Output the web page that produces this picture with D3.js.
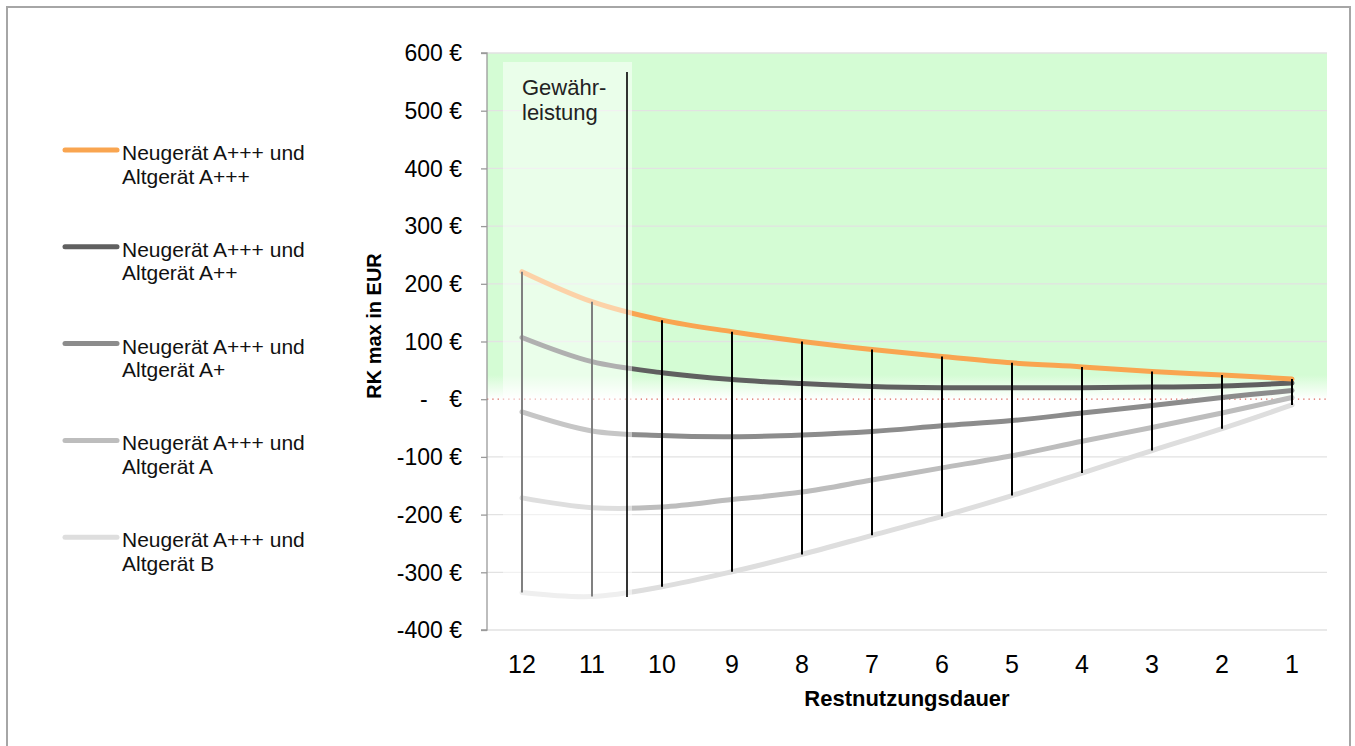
<!DOCTYPE html>
<html><head><meta charset="utf-8">
<script src="https://cdn.jsdelivr.net/npm/d3@7"></script>
<style>html,body{margin:0;padding:0;background:#fff;}svg{display:block;font-family:"Liberation Sans",Arial,sans-serif;}</style>
</head><body><svg id="c" width="1355" height="746"></svg>
<script>
const categories = ["12","11","10","9","8","7","6","5","4","3","2","1"];
const seriesNames = ["Neugerät A+++ und Altgerät A+++","Neugerät A+++ und Altgerät A++","Neugerät A+++ und Altgerät A+","Neugerät A+++ und Altgerät A","Neugerät A+++ und Altgerät B"];
const valsAppp = [221, 169, 137, 117, 100, 86, 74, 63, 56, 48, 42, 35];
const valsApp  = [107, 65, 46, 34, 27, 22, 20, 20, 20, 21, 23, 28];
const valsAp   = [-22, -55, -63, -65, -62, -56, -46, -37, -24, -11, 3, 15];
const valsA    = [-171, -188, -187, -174, -161, -140, -119, -98, -73, -49, -24, 3];
const valsB    = [-335, -342, -325, -299, -269, -236, -203, -167, -128, -89, -51, -10];
const colors   = ["#f9a550", "#606060", "#8c8c8c", "#bdbdbd", "#dedede"];
const yTicks   = [600, 500, 400, 300, 200, 100, 0, -100, -200, -300, -400];
const warrantyCats = ["12","11"];
const warrantyLabel = ["Gewähr-","leistung"];
const yTitle = "RK max in EUR";
const xTitle = "Restnutzungsdauer";

const allSeries = [valsAppp, valsApp, valsAp, valsA, valsB];
const svg = d3.select("#c");
const L = 487, R = 1327, T = 53, B = 630;
const x = d3.scaleBand().domain(categories).range([L, R]);
const y = d3.scaleLinear().domain([-400, 600]).range([B, T]);
const cx = c => x(c) + x.bandwidth()/2;

// outer border
svg.append("rect").attr("x",7).attr("y",7).attr("width",1343).attr("height",760)
  .attr("fill","none").attr("stroke","#a6a6a6").attr("stroke-width",2);

// green background gradient
const defs = svg.append("defs");
const g1 = defs.append("linearGradient").attr("id","gr").attr("x1",0).attr("y1",0).attr("x2",0).attr("y2",1);
g1.append("stop").attr("offset","0%").attr("stop-color","#d4fcd4");
g1.append("stop").attr("offset","93%").attr("stop-color","#d4fcd4");
g1.append("stop").attr("offset","100%").attr("stop-color","#ffffff");
svg.append("rect").attr("x",L).attr("y",T).attr("width",R-L).attr("height",y(0)-T).attr("fill","url(#gr)");

// gridlines
svg.append("g").selectAll("line").data(yTicks.filter(d=>d!==0)).join("line")
  .attr("x1",L).attr("x2",R).attr("y1",d=>y(d)).attr("y2",d=>y(d))
  .attr("stroke","#e2e2e2").attr("stroke-width",1.3);

// zero dotted line
svg.append("line").attr("x1",L).attr("x2",R).attr("y1",y(0)).attr("y2",y(0))
  .attr("stroke","#d9665a").attr("stroke-width",1.2).attr("stroke-dasharray","1.3,4");

// y axis
const yAxis = d3.axisLeft(y).tickValues(yTicks).tickSize(6).tickPadding(0).tickFormat(()=>"");
const ga = svg.append("g").attr("transform",`translate(${L},0)`).call(yAxis);
ga.selectAll("path,line").attr("stroke","#9a9a9a").attr("stroke-width",1.3);
ga.select(".domain").attr("d",`M-6,${T}H0V${B}H-6`);
const labs = svg.append("g");
const tfs = 23;
yTicks.forEach(v=>{
  if(v===0){
    labs.append("text").attr("x",462).attr("y",y(v)).attr("dy","0.36em").attr("text-anchor","end").attr("font-size",tfs).text("€");
    labs.append("text").attr("x",420).attr("y",y(v)).attr("dy","0.36em").attr("font-size",tfs).text("-");
  } else {
    labs.append("text").attr("x",462).attr("y",y(v)).attr("dy","0.36em").attr("text-anchor","end").attr("font-size",tfs).text(v+" €");
  }
});

// series lines
const line = d3.line().x((d,i)=>cx(categories[i])).y(d=>y(d)).curve(d3.curveCatmullRom.alpha(0.5));
for(let s=allSeries.length-1;s>=0;s--){
  svg.append("path").attr("d",line(allSeries[s])).attr("fill","none")
    .attr("stroke",colors[s]).attr("stroke-width",5).attr("stroke-linecap","round").attr("stroke-linejoin","round");
}

// high-low lines
svg.append("g").selectAll("line").data(categories).join("line")
  .attr("x1",d=>cx(d)).attr("x2",d=>cx(d))
  .attr("y1",(d,i)=>y(d3.max(allSeries,s=>s[i]))).attr("y2",(d,i)=>y(d3.min(allSeries,s=>s[i])))
  .attr("stroke","#000").attr("stroke-width",2);

// warranty overlay
const wx0 = x(warrantyCats[0]) + 16, wx1 = x(warrantyCats[1]) + x.bandwidth() + 5;
svg.append("rect").attr("x",wx0).attr("y",62).attr("width",wx1-wx0).attr("height",600-62)
  .attr("fill","#fff").attr("opacity",0.5);
svg.append("line").attr("x1",wx1-5).attr("x2",wx1-5).attr("y1",72).attr("y2",597).attr("stroke","#000").attr("stroke-width",1.6);
const wt = svg.append("text").attr("font-size",22).attr("fill","#222");
warrantyLabel.forEach((t,i)=>wt.append("tspan").attr("x",wx0+19).attr("y",95+i*25).text(t));

// x labels
svg.append("g").selectAll("text").data(categories).join("text")
  .attr("x",d=>cx(d)).attr("y",673).attr("text-anchor","middle").attr("font-size",25).text(d=>d);

// axis titles
svg.append("text").attr("x",907).attr("y",706).attr("text-anchor","middle").attr("font-size",22).attr("font-weight","bold").text(xTitle);
svg.append("text").attr("transform","translate(381,326) rotate(-90)").attr("text-anchor","middle").attr("font-size",20).attr("font-weight","bold").text(yTitle);

// legend
const lg = svg.append("g");
seriesNames.forEach((n,i)=>{
  const ly = 150 + i*96.8;
  lg.append("line").attr("x1",65).attr("x2",117).attr("y1",ly).attr("y2",ly)
    .attr("stroke",colors[i]).attr("stroke-width",5).attr("stroke-linecap","round");
  const k = n.indexOf(" und")+4;
  const parts = [n.slice(0, k), n.slice(k+1)];
  const t = lg.append("text").attr("font-size",21).attr("fill","#111");
  parts.forEach((p,j)=>t.append("tspan").attr("x",122).attr("y",ly+10+j*23.5).text(p));
});
</script></body></html>
